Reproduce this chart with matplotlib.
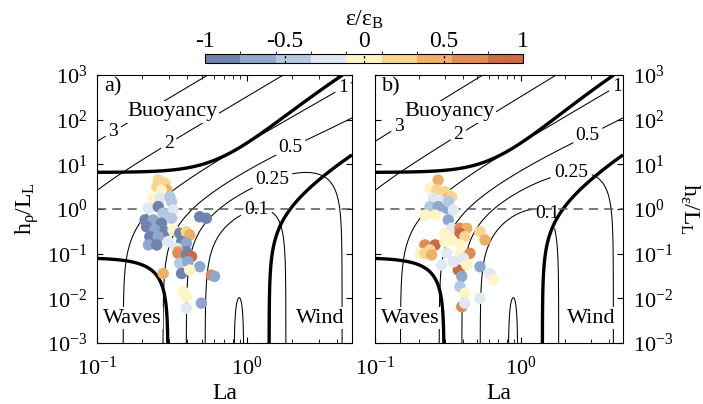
import numpy as np
import matplotlib as mpl
mpl.use('Agg')
import matplotlib.pyplot as plt
from matplotlib.colors import ListedColormap, BoundaryNorm
from matplotlib.ticker import LogLocator, NullLocator, NullFormatter

plt.rc('font', family='Liberation Serif', size=16)
plt.rc('mathtext', fontset='custom', rm='Liberation Serif', it='Liberation Serif:italic')

# scaling coefficients of the three dissipation terms (wind, waves, buoyancy)
c_wind = 2.0
c_wave = 0.22
c_buoy = 0.3
frac = 0.9  # regime boundary: one term makes up 90% of the total

extra_levels = [0]
label_levels = [0.1, 0.25, 0.5, 1, 2, 3]

# colour bins of eps/eps_B
bin_colors = ['#6f84ad', '#8ea7cc', '#b3c9e2', '#dfe8f3', '#fdf5c4',
              '#f6d690', '#eeb064', '#e08b52', '#cd6a45']
cb_ticks = [-1, -0.5, 0, 0.5, 1]
cb_labels = ['-1', '-0.5', '0', '0.5', '1']

# panel a) points: La, h_rho/L_L, eps/eps_B
la_a = [0.256, 0.283, 0.250, 0.291, 0.269, 0.237, 0.263, 0.306, 0.314, 0.220,
        0.256, 0.321, 0.276, 0.209, 0.237, 0.269, 0.314, 0.214, 0.243, 0.283,
        0.321, 0.225, 0.256, 0.298, 0.220, 0.250, 0.356, 0.394, 0.415, 0.366,
        0.394, 0.483, 0.535, 0.339, 0.394, 0.347, 0.347, 0.394, 0.426, 0.356,
        0.404, 0.483, 0.276, 0.366, 0.415, 0.578, 0.607, 0.375, 0.394, 0.496,
        0.394]
hl_a = [4.45, 3.76, 3.15, 2.66, 2.66, 1.73, 1.73, 1.88, 1.46, 1.04,
        1.13, 0.95, 0.80, 0.57, 0.57, 0.48, 0.62, 0.40, 0.34, 0.31,
        0.34, 0.240, 0.240, 0.185, 0.157, 0.157, 0.286, 0.31, 0.262, 0.185,
        0.171, 0.67, 0.62, 0.132, 0.111, 0.111, 0.102, 0.094, 0.086, 0.061,
        0.066, 0.051, 0.036, 0.036, 0.043, 0.033, 0.031, 0.0141, 0.0109, 0.0078,
        0.0060]
eps_a = [0.3, 0.3, 0.25, 0.45, 0.1, 0.0, -0.3, -0.45, -0.5, -0.25,
         -0.85, -0.25, -0.45, -0.85, -0.65, -0.85, -0.45, -0.85, -0.65, -0.85,
         0.05, -0.85, -0.65, -0.25, -0.65, -0.85, -0.85, 0.2, 0.5, -0.85,
         -0.65, -0.85, -0.85, -0.2, -0.85, 0.55, 0.6, -0.85, 0.85, -0.4,
         -0.65, -0.65, 0.4, -0.85, 0.0, 0.6, -0.65, 0.0, 0.05, -0.65,
         -0.25]

# panel b) points: La, h_eps/L_L, eps/eps_B
la_b = [0.271, 0.238, 0.301, 0.265, 0.251, 0.318, 0.335, 0.286, 0.238, 0.271,
        0.310, 0.318, 0.344, 0.220, 0.258, 0.318, 0.335, 0.301, 0.382, 0.425,
        0.382, 0.524, 0.567, 0.413, 0.335, 0.258, 0.220, 0.238, 0.203, 0.382,
        0.301, 0.220, 0.244, 0.310, 0.382, 0.447, 0.403, 0.286, 0.372, 0.393,
        0.524, 0.614, 0.646, 0.382, 0.413, 0.524, 0.393, 0.413, 0.425, 0.344]
hl_b = [4.45, 2.90, 2.44, 2.66, 1.73, 1.73, 1.88, 1.46, 1.13, 1.13,
        1.04, 1.46, 0.95, 0.73, 0.73, 0.57, 0.37, 0.286, 0.37, 0.37,
        0.286, 0.31, 0.202, 0.240, 0.202, 0.157, 0.157, 0.121, 0.102, 0.157,
        0.185, 0.102, 0.094, 0.102, 0.094, 0.102, 0.079, 0.056, 0.043, 0.031,
        0.051, 0.036, 0.026, 0.0183, 0.0130, 0.0100, 0.0065, 0.0078, 0.056, 0.066]
eps_b = [0.45, 0.1, 0.25, 0.25, -0.25, 0.45, 0.25, -0.25, -0.45, -0.65,
         -0.65, -0.45, -0.25, 0.05, 0.05, -0.65, -0.25, 0.05, 0.65, 0.45,
         0.85, 0.25, 0.45, 0.25, 0.05, 0.85, 0.6, 0.25, 0.05, 0.05,
         0.05, 0.25, 0.45, -0.25, 0.05, 0.6, -0.25, -0.25, 0.9, -0.65,
         -0.65, -0.25, 0.05, -0.45, 0.05, -0.25, 0.65, -0.25, 0.05, -0.25]

# contour label positions (La, h/L_L)
lab_pos_a = [(0.129, 53), (0.30, 29.5), (4.4, 500), (1.95, 24), (1.48, 4.1), (1.18, 0.57)]
lab_pos_b = [(0.148, 64), (0.38, 41), (4.6, 520), (2.97, 35), (2.22, 5.3), (1.35, 0.52)]

cmap = ListedColormap(bin_colors)
norm = BoundaryNorm(np.linspace(-1, 1, len(bin_colors) + 1), cmap.N)

La, HL = np.meshgrid(np.logspace(-1, np.log10(5), 500), np.logspace(-3, 3, 500))
W = c_wind * (1 - np.exp(-La / 2))
L = c_wave / La**2
B = c_buoy * HL / La**2
T = W + L + B

fig = plt.figure(figsize=(7.03, 4.04), dpi=100)
ax_a = fig.add_axes([97/703, 61/404, 255/703, 268/404])
ax_b = fig.add_axes([375/703, 61/404, 248/703, 268/404])
cax = fig.add_axes([205/703, 341/404, 318/703, 9.5/404])

panels = [(ax_a, la_a, hl_a, eps_a, lab_pos_a, 'a)', r'$\mathrm{h_\rho/L_L}$'),
          (ax_b, la_b, hl_b, eps_b, lab_pos_b, 'b)', r'$\mathrm{h_ε/L_L}$')]

for ax, x, y, c, lpos, tag, ylab in panels:
    ax.set_xscale('log')
    ax.set_yscale('log')
    ax.contour(La, HL, np.log10(T), levels=extra_levels, colors='k', linewidths=0.75)
    cs = ax.contour(La, HL, np.log10(T), levels=label_levels, colors='k', linewidths=0.75)
    txt = ax.clabel(cs, manual=lpos, inline=True, inline_spacing=4,
                    fmt={v: '%g' % v for v in label_levels}, fontsize=14)
    for t in txt:
        t.set_rotation(0)
    for part in (W, L, B):
        ax.contour(La, HL, part / T, levels=[frac], colors='k', linewidths=2.4)
    ax.axhline(1, color='#555555', ls=(0, (6, 4)), lw=1.1)
    ax.scatter(x, y, c=c, cmap=cmap, norm=norm, s=68, edgecolors='none', zorder=3)

    ax.set_xlim(0.1, 5)
    ax.set_ylim(1e-3, 1e3)
    ax.yaxis.set_major_locator(LogLocator(base=10, numticks=10))
    ax.yaxis.set_minor_locator(NullLocator())
    ax.xaxis.set_minor_locator(LogLocator(base=10, subs=np.arange(2, 10), numticks=10))
    ax.xaxis.set_minor_formatter(NullFormatter())
    ax.tick_params(which='both', direction='in', top=True, right=True, labelsize=16)
    ax.tick_params(which='major', length=4)
    ax.tick_params(which='minor', length=3)
    ax.tick_params(axis='x', pad=10)
    ax.tick_params(axis='y', pad=7)
    ax.set_xlabel('La', fontsize=17, labelpad=2)

    box = dict(fc='white', ec='none', pad=1)
    ax.text(0.03, 0.955, tag, transform=ax.transAxes, va='center', fontsize=16)
    ax.text(0.12, 0.862, 'Buoyancy', transform=ax.transAxes, va='center', fontsize=16, bbox=box)
    ax.text(0.025, 0.093, 'Waves', transform=ax.transAxes, va='center', fontsize=16, bbox=box)
    ax.text(0.97, 0.093, 'Wind', transform=ax.transAxes, va='center', ha='right', fontsize=16, bbox=box)
    ax.set_ylabel(ylab, fontsize=17)

ax_a.tick_params(labelleft=True, labelright=False)
ax_b.tick_params(labelleft=False, labelright=True)
ax_b.yaxis.set_label_position('right')
ax_b.yaxis.label.set_rotation(270)
ax_b.yaxis.labelpad = 20

cb = fig.colorbar(mpl.cm.ScalarMappable(norm=norm, cmap=cmap), cax=cax, orientation='horizontal')
cb.outline.set_linewidth(0.8)
cax.xaxis.set_ticks_position('top')
cax.xaxis.set_label_position('top')
cb.set_ticks(cb_ticks)
cb.set_ticklabels(cb_labels)
cax.tick_params(length=0, labelsize=17, pad=1)
cax.vlines(cb_ticks[1:-1], 0, 1, transform=cax.get_xaxis_transform(), colors='k',
           linestyles=(0, (2, 2)), lw=0.9)
cax.set_xlabel(r'$\mathrm{ε/ε_B}$', fontsize=17, labelpad=4)

fig.savefig('out.png', dpi=100)
